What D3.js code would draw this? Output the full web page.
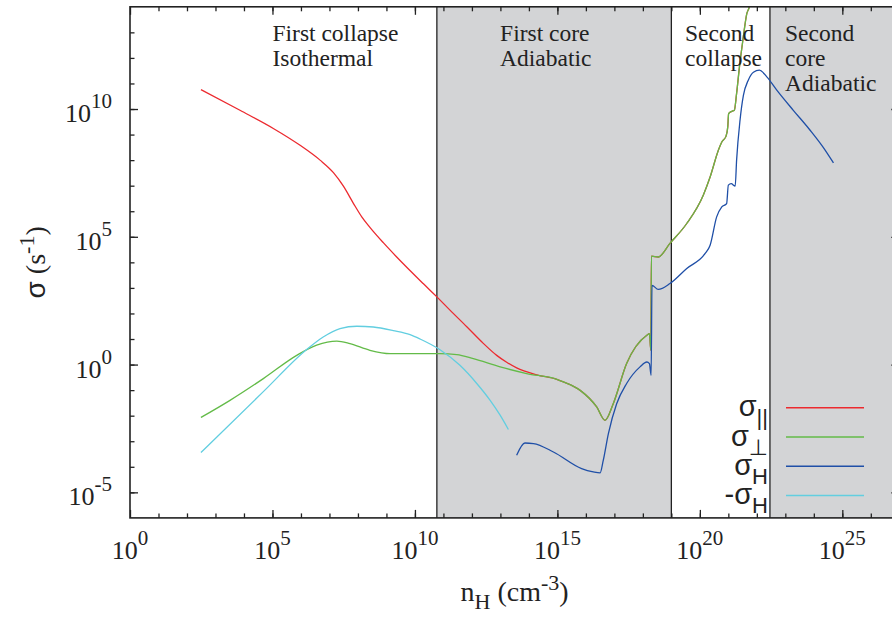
<!DOCTYPE html>
<html>
<head>
<meta charset="utf-8">
<script src="https://cdn.jsdelivr.net/npm/d3@7"></script>
<style>
  body { margin: 0; background: #fff; }
  svg text { fill: #222; }
</style>
</head>
<body>
<svg id="chart" width="892" height="617"></svg>
<script>
// every pair is [log10 n_H (cm^-3), log10 sigma (s^-1)]
const sigmaPar = [
  [2.49, 10.76], [3.86, 9.95], [5.03, 9.24], [5.97, 8.58], [6.67, 8.00], [7.14, 7.51],
  [7.49, 6.98], [7.84, 6.31], [8.14, 5.77], [8.42, 5.37], [8.89, 4.77], [9.36, 4.21],
  [10.29, 3.17], [10.77, 2.65], [11.23, 2.13], [11.82, 1.48], [12.40, 0.83], [12.87, 0.36],
  [13.22, 0.09], [13.57, -0.13], [14.28, -0.40], [14.98, -0.58],
  [15.21, -0.68], [15.80, -1.01], [16.38, -1.66], [16.67, -2.18], [16.96, -1.53], [17.43, 0.04],
  [18.14, 1.15], [18.23, 1.21], [18.28, 0.56], [18.30, 4.24], [18.54, 4.21], [18.95, 4.74],
  [19.54, 5.52], [20.12, 6.63], [20.36, 7.34], [20.65, 8.39], [20.77, 8.71], [20.92, 8.94],
  [20.98, 9.30], [21.01, 9.82], [21.12, 9.91], [21.21, 9.95], [21.29, 10.61], [21.39, 11.65],
  [21.51, 12.69], [21.65, 13.74], [21.74, 14.02], [21.80, 14.45]
];

const sigmaPerp = [
  [2.49, -2.07], [3.51, -1.40], [4.68, -0.55], [5.85, 0.36], [6.55, 0.76], [7.26, 0.92],
  [7.72, 0.82], [8.42, 0.56], [9.13, 0.43], [9.83, 0.43], [10.88, 0.43], [11.47, 0.39],
  [12.05, 0.23], [12.99, -0.09], [13.92, -0.35], [14.98, -0.58],
  [15.21, -0.68], [15.80, -1.01], [16.38, -1.66], [16.67, -2.18], [16.96, -1.53], [17.43, 0.04],
  [18.14, 1.15], [18.23, 1.21], [18.28, 0.56], [18.30, 4.24], [18.54, 4.21], [18.95, 4.74],
  [19.54, 5.52], [20.12, 6.63], [20.36, 7.34], [20.65, 8.39], [20.77, 8.71], [20.92, 8.94],
  [20.98, 9.30], [21.01, 9.82], [21.12, 9.91], [21.21, 9.95], [21.29, 10.61], [21.39, 11.65],
  [21.51, 12.69], [21.65, 13.74], [21.74, 14.02], [21.80, 14.45]
];

const sigmaHall = [
  [13.57, -3.55], [13.86, -3.07], [14.16, -3.09], [14.86, -3.42], [15.85, -4.07], [16.26, -4.20],
  [16.50, -4.24], [16.61, -3.75], [16.79, -2.70], [17.08, -1.53], [17.43, -0.74], [17.90, -0.09],
  [18.14, 0.10], [18.23, 0.04], [18.29, -0.42], [18.32, 3.10], [18.54, 2.94], [18.95, 3.17],
  [19.54, 3.76], [20.18, 4.34], [20.36, 4.67], [20.59, 5.78], [20.77, 6.17], [20.94, 6.30],
  [21.00, 7.02], [21.10, 7.08], [21.24, 6.98], [21.29, 8.00], [21.41, 9.56], [21.53, 10.54],
  [21.70, 11.13], [21.88, 11.44], [22.09, 11.52], [22.35, 11.26], [22.70, 10.74], [23.28, 9.95],
  [23.87, 9.17], [24.33, 8.50], [24.69, 7.89]
];

const sigmaHallNeg = [
  [2.49, -3.44], [4.68, -1.06], [6.20, 0.59], [6.78, 1.08], [7.37, 1.41], [7.96, 1.50],
  [8.54, 1.47], [9.24, 1.33], [9.83, 1.17], [10.18, 1.00], [10.88, 0.58], [11.58, -0.03],
  [12.17, -0.74], [12.64, -1.40], [12.99, -1.98], [13.28, -2.54]
];

// log10 n_H where the phases change, and the text of each phase
const phaseEdges = [10.77, 19.0, 22.46];
const phaseText = [
  ['First collapse', 'Isothermal'],
  ['First core', 'Adiabatic'],
  ['Second', 'collapse'],
  ['Second', 'core', 'Adiabatic']
];
const phaseTextAt = [5, 12.99, 19.48, 22.99];

const xMajor = [0, 5, 10, 15, 20, 25];
const yMajor = [-5, 0, 5, 10];

const series = [
  {pre: '', sub: '||', color: '#ec2a2f', data: sigmaPar},
  {pre: '', sub: '\u22A5', color: '#63bb48', data: sigmaPerp},
  {pre: '', sub: 'H', color: '#1f4fa7', data: sigmaHall},
  {pre: '-', sub: 'H', color: '#62cee0', data: sigmaHallNeg}
];

const serif = '"Liberation Serif", "Times New Roman", serif';
const sans = '"Liberation Sans", "DejaVu Sans", sans-serif';

const margin = {top: 6.8, left: 130};
const width = 769.3;
const height = 511.1;

const x = d3.scaleLog().domain([1, 1e27]).range([0, width]);
const y = d3.scaleLog().domain([1e-6, 1e14]).range([height, 0]);
const X = e => x(Math.pow(10, e));
const Y = e => y(Math.pow(10, e));

const svg = d3.select('#chart');
const g = svg.append('g').attr('transform', `translate(${margin.left},${margin.top})`);

g.append('clipPath').attr('id', 'clip')
  .append('rect').attr('width', width).attr('height', height);

// shaded adiabatic phases
const shaded = [[phaseEdges[0], phaseEdges[1]], [phaseEdges[2], 27]];
g.selectAll('.phase')
  .data(shaded)
  .enter()
  .append('rect')
  .attr('x', d => X(d[0]))
  .attr('width', d => X(d[1]) - X(d[0]))
  .attr('height', height)
  .attr('fill', '#d3d4d6');

g.selectAll('.edge')
  .data(phaseEdges)
  .enter()
  .append('line')
  .attr('x1', d => X(d)).attr('x2', d => X(d))
  .attr('y1', 0).attr('y2', height)
  .attr('stroke', '#222')
  .attr('stroke-width', 1.3);

// ticks on all four sides, pointing inwards
function ticks(axis, values, size, transform) {
  const a = g.append('g')
    .attr('transform', transform)
    .call(axis.tickValues(values).tickSizeInner(-size).tickSizeOuter(0).tickFormat(''));
  a.select('.domain').remove();
  a.selectAll('line').attr('stroke', '#222').attr('stroke-width', 1.3);
}
const xAll = d3.range(1, 27).map(e => Math.pow(10, e));
const yAll = d3.range(-5, 14).map(e => Math.pow(10, e));
ticks(d3.axisBottom(x), xAll, 4.5, `translate(0,${height})`);
ticks(d3.axisBottom(x), xMajor.map(e => Math.pow(10, e)), 8, `translate(0,${height})`);
ticks(d3.axisTop(x), xAll, 4.5, 'translate(0,0)');
ticks(d3.axisTop(x), xMajor.map(e => Math.pow(10, e)), 8, 'translate(0,0)');
ticks(d3.axisLeft(y), yAll, 4.5, 'translate(0,0)');
ticks(d3.axisLeft(y), yMajor.map(e => Math.pow(10, e)), 8, 'translate(0,0)');
ticks(d3.axisRight(y), yAll, 4.5, `translate(${width},0)`);
ticks(d3.axisRight(y), yMajor.map(e => Math.pow(10, e)), 8, `translate(${width},0)`);

// curves
const line = d3.line()
  .x(d => X(d[0]))
  .y(d => Y(d[1]))
  .curve(d3.curveMonotoneX);

g.append('g').attr('clip-path', 'url(#clip)')
  .selectAll('path')
  .data(series)
  .enter()
  .append('path')
  .attr('d', d => line(d.data))
  .attr('fill', 'none')
  .attr('stroke', d => d.color)
  .attr('stroke-width', 1.3);

// frame
g.append('rect')
  .attr('width', width).attr('height', height)
  .attr('fill', 'none').attr('stroke', '#222').attr('stroke-width', 1.6);

// phase labels
phaseText.forEach((lines, i) => {
  const t = g.append('text')
    .attr('font-family', serif)
    .attr('font-size', 23.5);
  lines.forEach((s, j) => {
    t.append('tspan')
      .attr('x', X(phaseTextAt[i]))
      .attr('y', 34.5 + j * 25)
      .text(s);
  });
});

// tick labels
const xLab = g.selectAll('.xlab')
  .data(xMajor)
  .enter()
  .append('text')
  .attr('x', d => X(d))
  .attr('y', height + 41)
  .attr('text-anchor', 'middle')
  .attr('font-family', serif)
  .attr('font-size', 26);
xLab.append('tspan').text('10');
xLab.append('tspan').attr('dy', -14).attr('font-size', 21).text(d => d);

const yLab = g.selectAll('.ylab')
  .data(yMajor)
  .enter()
  .append('text')
  .attr('x', -18)
  .attr('y', d => Y(d) + 13)
  .attr('text-anchor', 'end')
  .attr('font-family', serif)
  .attr('font-size', 26);
yLab.append('tspan').text('10');
yLab.append('tspan').attr('dy', -14).attr('font-size', 21).text(d => d);

// axis titles
const xt = g.append('text')
  .attr('x', width / 2)
  .attr('y', height + 83)
  .attr('text-anchor', 'middle')
  .attr('font-family', serif)
  .attr('font-size', 28);
xt.append('tspan').text('n');
xt.append('tspan').attr('dy', 8).attr('font-size', 22).text('H');
xt.append('tspan').attr('dy', -8).text(' (cm');
xt.append('tspan').attr('dy', -11).attr('font-size', 22).text('-3');
xt.append('tspan').attr('dy', 11).text(')');

const yt = g.append('text')
  .attr('transform', `translate(${-margin.left + 45},${height / 2}) rotate(-90)`)
  .attr('text-anchor', 'middle')
  .attr('font-family', serif)
  .attr('font-size', 28);
yt.append('tspan').attr('font-family', sans).text('\u03C3');
yt.append('tspan').text(' (s');
yt.append('tspan').attr('dy', -11).attr('font-size', 22).text('-1');
yt.append('tspan').attr('dy', 11).text(')');

// legend
const legend = g.selectAll('.legend')
  .data(series)
  .enter()
  .append('g')
  .attr('transform', (d, i) => `translate(0,${400.9 + i * 29.3})`);

legend.append('line')
  .attr('x1', 656).attr('x2', 734)
  .attr('stroke', d => d.color)
  .attr('stroke-width', 1.5);

const lt = legend.append('text')
  .attr('x', 638)
  .attr('y', 8.5)
  .attr('text-anchor', 'end')
  .attr('font-family', sans)
  .attr('font-size', 29);
lt.append('tspan').text(d => d.pre + '\u03C3');
lt.append('tspan').attr('dy', 9).attr('font-size', 22).text(d => d.sub);
</script>
</body>
</html>
